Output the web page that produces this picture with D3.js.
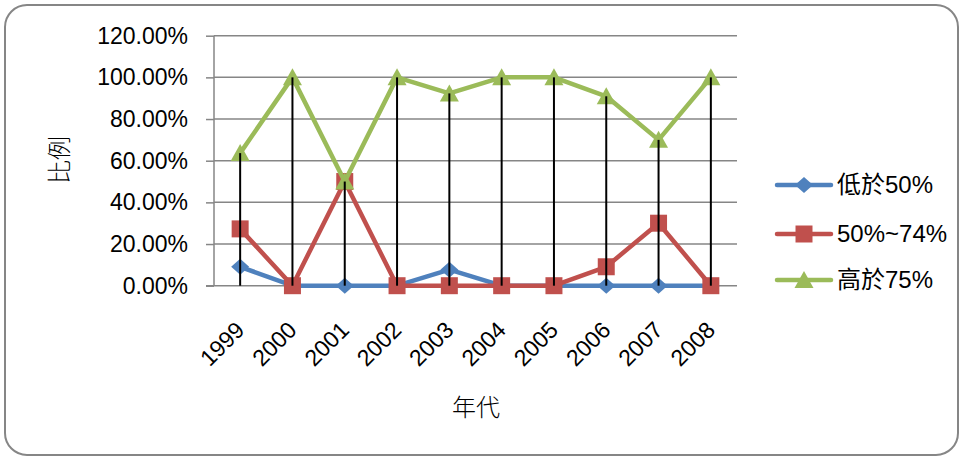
<!DOCTYPE html>
<html>
<head>
<meta charset="utf-8">
<script src="https://cdn.jsdelivr.net/npm/d3@7"></script>
<style>
  html, body { margin: 0; padding: 0; background: #fff; }
  svg text { font-family: "Liberation Sans", Arial, sans-serif; fill: #000; }
  .cjk { font-family: "Noto Sans CJK TC", "Noto Sans CJK SC", sans-serif; }
</style>
</head>
<body>
<svg id="chart" width="963" height="459"></svg>
<script>
// Survey years
const years = ["1999", "2000", "2001", "2002", "2003", "2004", "2005", "2006", "2007", "2008"];

// Share of each score band per year
const below50 = [0.0909, 0, 0, 0, 0.0769, 0, 0, 0, 0, 0];
const from50to74 = [0.2727, 0, 0.5, 0, 0, 0, 0, 0.0909, 0.30, 0];
const above75 = [0.6364, 1.0, 0.5, 1.0, 0.9231, 1.0, 1.0, 0.9091, 0.70, 1.0];

const seriesNames = ["低於50%", "50%~74%", "高於75%"];
const seriesColors = ["#4F81BD", "#C0504D", "#9BBB59"];
const yTicks = [0, 0.2, 0.4, 0.6, 0.8, 1.0, 1.2];

const series = [below50, from50to74, above75].map((vals, i) => ({
  name: seriesNames[i], color: seriesColors[i], values: vals
}));

// Marker shapes: diamond, square, triangle
const markerPaths = [
  "M0,-8L9,0L0,8L-9,0Z",
  "M-8.5,-8.5H8.5V8.5H-8.5Z",
  "M0,-9L9.5,8L-9.5,8Z"
];

const svg = d3.select("#chart");

// Outer rounded frame
svg.append("rect")
  .attr("x", 5).attr("y", 5).attr("width", 953).attr("height", 450)
  .attr("rx", 22).attr("ry", 22)
  .attr("fill", "#fff").attr("stroke", "#868686").attr("stroke-width", 2);

const plot = { left: 214, right: 737, top: 35.7, bottom: 285.7 };

const x = d3.scaleBand().domain(years).range([plot.left, plot.right]).padding(0);
const cx = d => x(d) + x.bandwidth() / 2;
const y = d3.scaleLinear().domain([0, 1.2]).range([plot.bottom, plot.top]);

// Horizontal gridlines
svg.append("g").selectAll("line").data(yTicks.filter(t => t > 0)).join("line")
  .attr("x1", plot.left).attr("x2", plot.right)
  .attr("y1", d => y(d)).attr("y2", d => y(d))
  .attr("stroke", "#868686").attr("stroke-width", 1.5);

// Y axis with percent labels
const yAxis = d3.axisLeft(y).tickValues(yTicks).tickSize(8).tickPadding(18)
  .tickFormat(d => (d * 100).toFixed(2) + "%");
const gy = svg.append("g").attr("transform", `translate(${plot.left},0)`).call(yAxis);
gy.select(".domain").attr("stroke", "#868686").attr("stroke-width", 1.5).attr("d", `M0,${plot.top}V${plot.bottom}`);
gy.selectAll(".tick line").attr("stroke", "#868686").attr("stroke-width", 1.5);
gy.selectAll(".tick text").attr("font-size", 23).attr("font-family", "Liberation Sans, Arial, sans-serif").attr("fill", "#000");

// X axis baseline
svg.append("line")
  .attr("x1", plot.left - 8).attr("x2", plot.right)
  .attr("y1", plot.bottom).attr("y2", plot.bottom)
  .attr("stroke", "#868686").attr("stroke-width", 1.5);

// Rotated year labels
svg.append("g").selectAll("text").data(years).join("text")
  .attr("transform", d => `translate(${cx(d)},${plot.bottom + 40}) rotate(-45)`)
  .attr("text-anchor", "end")
  .attr("dy", "0.35em")
  .attr("font-size", 23)
  .text(d => d);

// Series lines and markers
const line = d3.line().x((v, i) => cx(years[i])).y(v => y(v));

series.forEach((s, si) => {
  const g = svg.append("g");
  g.append("path").datum(s.values)
    .attr("d", line).attr("fill", "none")
    .attr("stroke", s.color).attr("stroke-width", 4.5).attr("stroke-linejoin", "round");
  g.selectAll("path.m").data(s.values).join("path").attr("class", "m")
    .attr("transform", (v, i) => `translate(${cx(years[i])},${y(v)})`)
    .attr("d", markerPaths[si])
    .attr("fill", s.color);
});

// Drop lines from the highest value down to the category axis
svg.append("g").selectAll("line").data(years).join("line")
  .attr("x1", d => cx(d)).attr("x2", d => cx(d))
  .attr("y1", (d, i) => y(Math.max(below50[i], from50to74[i], above75[i])))
  .attr("y2", y(0))
  .attr("stroke", "#000").attr("stroke-width", 2);

// Axis titles
svg.append("text").attr("class", "cjk")
  .attr("transform", `translate(60,160) rotate(-90)`)
  .attr("text-anchor", "middle").attr("dy", "0.35em").attr("font-size", 24).attr("font-weight", 300)
  .text("比例");
svg.append("text").attr("class", "cjk")
  .attr("x", 476).attr("y", 408)
  .attr("text-anchor", "middle").attr("dy", "0.35em").attr("font-size", 24).attr("font-weight", 300)
  .text("年代");

// Legend
const legend = svg.append("g");
series.forEach((s, si) => {
  const ly = [185, 234, 280][si];
  const row = legend.append("g").attr("transform", `translate(804,${ly})`);
  row.append("line").attr("x1", -27).attr("x2", 27)
    .attr("stroke", s.color).attr("stroke-width", 4.5).attr("stroke-linecap", "round");
  row.append("path").attr("d", markerPaths[si]).attr("fill", s.color);
  row.append("text").attr("x", 33).attr("dy", "0.35em")
    .attr("font-size", 24)
    .style("font-family", '"Liberation Sans", "Noto Sans CJK TC", sans-serif')
    .text(s.name);
});
</script>
</body>
</html>
